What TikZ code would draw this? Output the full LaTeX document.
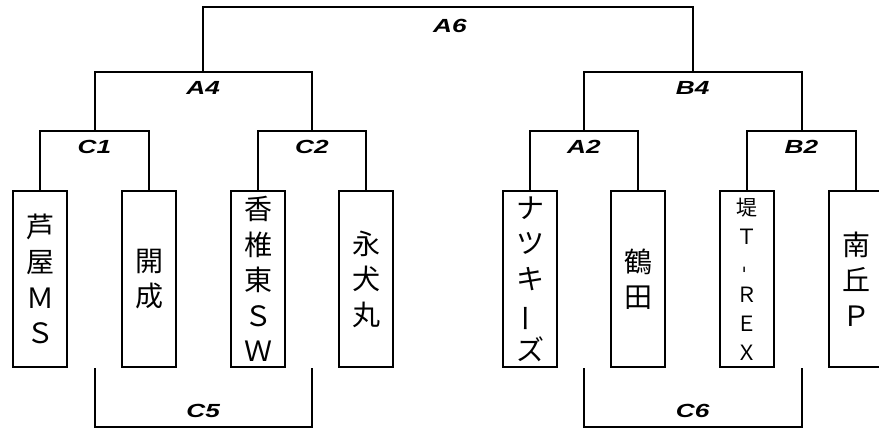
\documentclass[tikz,border=0pt]{standalone}
\usepackage{fontspec}
\setmainfont{Liberation Sans}
\newfontfamily\jpfont{Noto Sans CJK JP}
\newcommand\widetext[1]{\scalebox{1.38}[1]{#1}}
\begin{document}
\begin{tikzpicture}[x=1pt, y=-1pt, line width=2pt, line join=miter,
		team/.style={draw, minimum width=54pt, minimum height=176pt, inner sep=0pt, align=center, font=\jpfont\fontsize{28}{35.5}\selectfont},
		lbl/.style={inner sep=0pt, font=\fontsize{19}{21}\selectfont\bfseries\itshape}]
		\useasboundingbox (0,0) rectangle (879,428);
		\foreach \i/\x/\t in {1/40/{芦\\屋\\Ｍ\\Ｓ}, 2/149/{開\\成}, 3/258/{香\\椎\\東\\Ｓ\\Ｗ}, 4/366/{永\\犬\\丸},
			5/530/{ナ\\ツ\\キ\\\rotatebox[origin=c]{90}{ー}\\ズ}, 6/638/{鶴\\田}, 8/856/{南\\丘\\Ｐ}}
			\node[team] (t\i) at (\x,279) {\t};
		\node[team, font=\jpfont\fontsize{21}{29}\selectfont] (t7) at (747,279) {堤\\Ｔ\\\rotatebox[origin=c]{90}{-}\\Ｒ\\Ｅ\\Ｘ};
		% brackets
		\coordinate (c1) at (94.5,131); \coordinate (c2) at (312,131);
		\coordinate (a2) at (584,131); \coordinate (b2) at (801.5,131);
		\coordinate (a4) at (203.25,72); \coordinate (b4) at (692.75,72);
		\coordinate (a6) at (448,7.5);
		\coordinate (c5) at (203.25,427); \coordinate (c6) at (692.75,427);
		\draw (t1.north) |- (c1) -| (t2.north) (t3.north) |- (c2) -| (t4.north)
			(t5.north) |- (a2) -| (t6.north) (t7.north) |- (b2) -| (t8.north);
		\draw (c1) |- (a4) -| (c2) (a2) |- (b4) -| (b2) (a4) |- (a6) -| (b4);
		\draw (c1 |- t1.south) |- (c5) -| (c2 |- t1.south) (a2 |- t1.south) |- (c6) -| (b2 |- t1.south);
		% labels
		\foreach \p/\s in {c1/C1,c2/C2,a2/A2,b2/B2,a4/A4,b4/B4} \node[lbl] at ([yshift=-15.5pt]\p) {\widetext{\s}};
		\node[lbl] at ([xshift=2pt,yshift=-18pt]a6) {\widetext{A6}};
		\foreach \p/\s in {c5/C5,c6/C6} \node[lbl] at ([yshift=16pt]\p) {\widetext{\s}};
	\end{tikzpicture}
\end{document}
